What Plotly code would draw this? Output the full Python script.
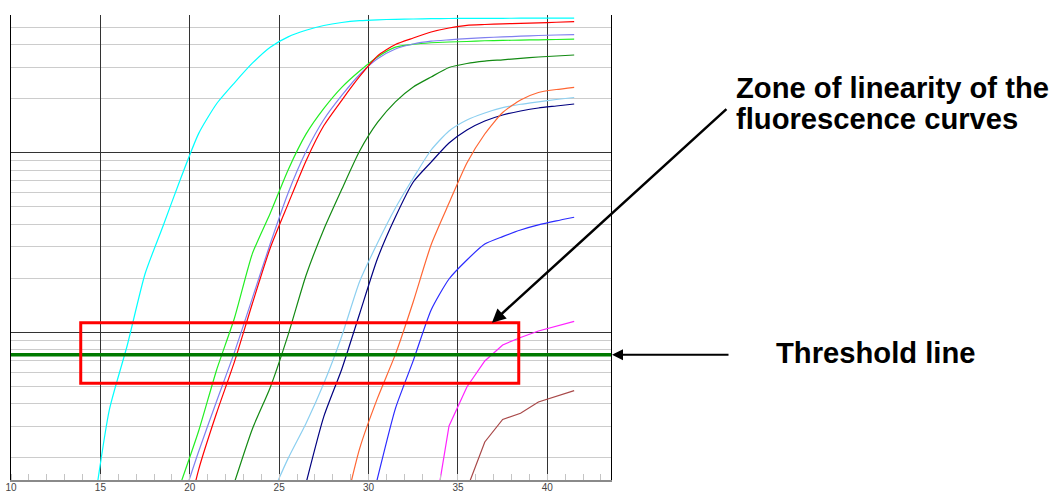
import math
import plotly.graph_objects as go

# ---------------- data ----------------
CYCLES = [14.5, 15.5, 16.5, 17.5, 18.5, 19.5, 20.5, 21.5, 22.5, 23.5,
          24.5, 25.5, 26.5, 27.5, 28.5, 29.5, 30.5, 31.5, 32.5, 33.5,
          34.5, 35.5, 36.5, 37.5, 38.5, 39.5, 40.5, 41.5]

N = None
CYAN = [8.5, 37.0, 84.4, 211.8, 389.7, 723, 1281, 1873, 2450, 3150,
        3868, 4413, 4802, 5107, 5307, 5432, 5495, 5531, 5551, 5573,
        5587, 5595, 5601, 5601, 5608, 5608, 5608, 5608]
LIME = [N, N, N, N, N, 14.5, 28.3, 61.7, 120.1, 274,
        460, 802, 1268, 1765, 2312, 2851, 3411, 3868, 4015, 4093,
        4134, 4161, 4199, 4220, 4236, 4252, 4269, 4285]
LAVENDER = [N, N, N, N, N, 10.9, 21.76, 41.3, 77.5, 155,
            311, 597, 1014, 1531, 2083, 2726, 3333, 3780, 4030, 4177,
            4252, 4318, 4374, 4413, 4453, 4493, 4522, 4545]
RED = [N, N, N, N, N, 6.5, 17.25, 35.5, 68.6, 144.7,
       294.7, 518.7, 900, 1416, 1958, 2657, 3453, 4004, 4351, 4699,
       4946, 5121, 5173, 5214, 5254, 5288, 5323, 5364]
GREEN = [N, N, N, N, N, N, N, N, 14.6, 28.97,
         49.3, 96.7, 207, 375, 625, 1022, 1473, 1920, 2322, 2640,
         2981, 3138, 3232, 3290, 3354, 3411, 3454, 3499]
SKY = [N, N, N, N, N, N, N, N, N, N,
       11.9, 19.86, 31.1, 52.0, 95.1, 191.8, 314, 492, 723, 1035,
       1321, 1521, 1664, 1781, 1860, 1920, 1978, 2029]
NAVY = [N, N, N, N, N, N, N, N, N, N,
        N, N, 14.4, 34.0, 62.3, 126.9, 257.5, 438.5, 687, 887,
        1132, 1338, 1501, 1622, 1706, 1774, 1820, 1867]
ORANGE = [N, N, N, N, N, N, N, N, N, N,
          N, N, N, N, 8.8, 22.5, 43.0, 75.3, 148, 307.5,
          524, 876, 1271, 1674, 1965, 2164, 2248, 2313]
BLUE = [N, N, N, N, N, N, N, N, N, N,
        N, N, N, N, N, 6, 15.4, 37.6, 69.5, 133.1,
        198, 252.7, 310, 341, 371, 396, 417, 437]
MAGENTA = [N, N, N, N, N, N, N, N, N, N,
           N, N, N, N, N, N, N, N, N, 7.5,
           30.1, 49.6, 69.2, 85.0, 93.6, 101.7, 108.4, 115.1]
BROWN = [N, N, N, N, N, N, N, N, N, N,
         N, N, N, N, N, N, N, N, N, N,
         N, 13.4, 24.5, 32.7, 35.4, 40.9, 44.2, 47.3]

THRESHOLD = 75
ZONE_X = [13.9, 38.4]
ZONE_Y = [52, 113]
ZONE_ARROW_X = 36.9

X_TICKS = [10, 15, 20, 25, 30, 35, 40]
Y_MAJOR = [100, 1000]
Y_MINOR = [20, 30, 40, 50, 60, 70, 80, 90, 200, 300, 400, 500, 600, 700, 800, 900,
           2000, 3000, 4000, 5000]

ZONE_TEXT_1 = "Zone of linearity of the"
ZONE_TEXT_2 = "fluorescence curves"
THRESH_TEXT = "Threshold line"

# ---------------- figure ----------------
# (values, colour, smooth?)
series = [
    (CYAN, "#00FFFF", True), (LIME, "#22EE22", True), (LAVENDER, "#8080F0", True),
    (RED, "#FF0000", True), (GREEN, "#138A13", True), (SKY, "#8CCFF0", True),
    (NAVY, "#000080", True), (ORANGE, "#FF6633", True), (BLUE, "#2B2BFF", True),
    (MAGENTA, "#FF22FF", False), (BROWN, "#A84848", False),
]

fig = go.Figure()
for vals, col, smooth in series:
    line = dict(color=col, width=1.2)
    if smooth:
        line.update(shape="spline", smoothing=0.6)
    fig.add_trace(go.Scatter(x=CYCLES, y=vals, mode="lines", line=line,
                             showlegend=False, hoverinfo="skip"))

W, H = 1053, 494
ML, MR, MT, MB = 11, 442, 15, 14
PW, PH = W - ML - MR, H - MT - MB

fig.update_layout(
    width=W, height=H, autosize=False,
    margin=dict(l=ML, r=MR, t=MT, b=MB, pad=0, autoexpand=False),
    paper_bgcolor="white", plot_bgcolor="white",
    font=dict(family="Liberation Sans, Arial, sans-serif"),
    showlegend=False,
)

fig.update_xaxes(
    range=[10, 43.56], tickmode="array", tickvals=X_TICKS,
    ticktext=[str(t) for t in X_TICKS], automargin=False,
    showgrid=True, gridcolor="#333333", gridwidth=1,
    showline=True, linecolor="#8a8a8a", linewidth=2,
    ticks="", zeroline=False, ticklabelstandoff=-3,
    tickfont=dict(size=10, color="#444444"),
    minor=dict(dtick=1, tick0=0, ticks="inside", ticklen=6,
               tickcolor="#c4c4c4", tickwidth=1, showgrid=False),
)
fig.update_yaxes(
    type="log", range=[math.log10(15.05), math.log10(5843)],
    tickmode="array", tickvals=Y_MAJOR, showticklabels=False, automargin=False,
    showgrid=True, gridcolor="#333333", gridwidth=1,
    showline=True, linecolor="black", linewidth=1, mirror=True,
    ticks="", zeroline=False,
    minor=dict(tickmode="array", tickvals=Y_MINOR, showgrid=True,
               gridcolor="#cccccc", gridwidth=1.3, ticks=""),
)

# threshold line
fig.add_shape(type="line", xref="paper", x0=0, x1=1, yref="y",
              y0=THRESHOLD, y1=THRESHOLD,
              line=dict(color="#007A00", width=3.5), layer="above")
# zone rectangle
fig.add_shape(type="rect", xref="x", yref="y",
              x0=ZONE_X[0], x1=ZONE_X[1], y0=ZONE_Y[0], y1=ZONE_Y[1],
              line=dict(color="#FF0000", width=3), layer="above")


def px2paper_x(px):
    return (px - ML) / PW


def px2paper_y(py):
    return (H - MB - py) / PH


# arrows
fig.add_annotation(x=ZONE_ARROW_X, y=math.log10(ZONE_Y[1]), xref="x", yref="y",
                   ax=236, ay=-215, showarrow=True, arrowhead=2, arrowsize=1.1,
                   arrowwidth=2.5, arrowcolor="black", text="", standoff=0)
fig.add_annotation(x=px2paper_x(612), y=math.log10(THRESHOLD), xref="paper", yref="y",
                   ax=118, ay=0, showarrow=True, arrowhead=2, arrowsize=1.1,
                   arrowwidth=2, arrowcolor="black", text="", standoff=0)

# texts
tfont = dict(family="Liberation Sans, Arial, sans-serif", size=29.2, color="black")
fig.add_annotation(x=px2paper_x(734), y=px2paper_y(88), xref="paper", yref="paper",
                   text="<b>" + ZONE_TEXT_1 + "</b>", showarrow=False,
                   xanchor="left", yanchor="middle", font=tfont)
fig.add_annotation(x=px2paper_x(734), y=px2paper_y(119), xref="paper", yref="paper",
                   text="<b>" + ZONE_TEXT_2 + "</b>", showarrow=False,
                   xanchor="left", yanchor="middle", font=tfont)
fig.add_annotation(x=px2paper_x(774), y=px2paper_y(353), xref="paper", yref="paper",
                   text="<b>" + THRESH_TEXT + "</b>", showarrow=False,
                   xanchor="left", yanchor="middle", font=tfont)

fig.write_html("out.html", config={"displayModeBar": False},
               post_script="document.body.style.margin='0';document.body.style.overflow='hidden';")
